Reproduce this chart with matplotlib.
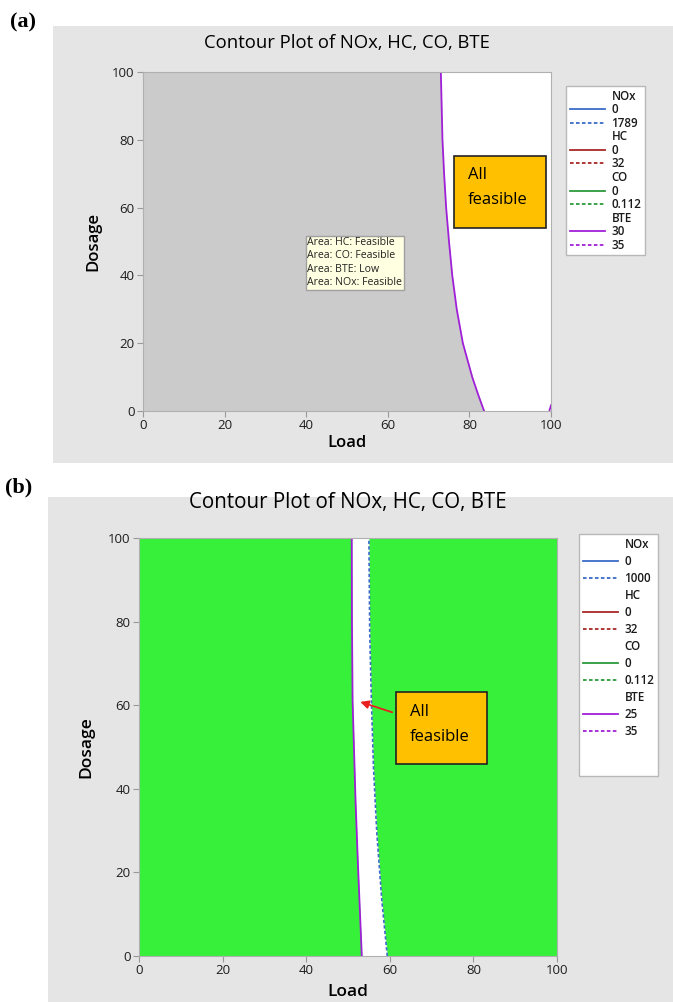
import matplotlib
matplotlib.use("Agg")
import matplotlib.pyplot as plt
from matplotlib.patches import Rectangle
from matplotlib.lines import Line2D

plt.rcParams['font.family'] = ['Open Sans', 'DejaVu Sans']

# ---- data ----
# (a) BTE = 30 contour boundary (Load vs Dosage)
a_bte_dosage = [0, 5, 10, 20, 30, 40, 50, 60, 70, 80, 90, 100]
a_bte_load = [83.6, 82.1, 80.7, 78.4, 76.9, 75.8, 75.0, 74.3, 73.8, 73.4, 73.2, 73.0]
# small BTE piece at bottom right corner
a_corner_load = [99.6, 100]
a_corner_dosage = [0, 1.7]

# (b) BTE = 25 (left edge of feasible band) and NOx = 1000 (right edge)
b_bte_dosage = [0, 21.4, 37.3, 61, 80, 100]
b_bte_load = [53.3, 52.4, 51.8, 51.1, 50.95, 50.9]
b_nox_dosage = [0, 13.2, 29.3, 45, 61, 77.2, 100]
b_nox_load = [59.4, 58.1, 56.9, 56.1, 55.6, 55.2, 55.0]

ticks = [0, 20, 40, 60, 80, 100]
title = "Contour Plot of NOx, HC, CO, BTE"
a_levels = {"NOx": ["0", "1789"], "HC": ["0", "32"], "CO": ["0", "0.112"], "BTE": ["30", "35"]}
b_levels = {"NOx": ["0", "1000"], "HC": ["0", "32"], "CO": ["0", "0.112"], "BTE": ["25", "35"]}
colors = {"NOx": "#3a6cc8", "HC": "#a82828", "CO": "#2e9a3c", "BTE": "#a020d8"}
area_text = "Area: HC: Feasible\nArea: CO: Feasible\nArea: BTE: Low\nArea: NOx: Feasible"

W, H = 673, 1002
fig = plt.figure(figsize=(W / 100, H / 100), dpi=100)


def fx(px):
    return px / W


def fy(py):
    return 1 - py / H


def background(x0, y0, x1, y1):
    bg = fig.add_axes([fx(x0), fy(y1), fx(x1 - x0), (y1 - y0) / H], zorder=-5)
    bg.set_facecolor('#e5e5e5')
    bg.set_xticks([])
    bg.set_yticks([])
    for s in bg.spines.values():
        s.set_visible(False)


background(53, 26, 673, 463)
background(48, 497, 673, 1002)


def style_axes(ax, lsize, xpad, ypad):
    ax.set_xlim(0, 100)
    ax.set_ylim(0, 100)
    ax.set_xticks(ticks)
    ax.set_yticks(ticks)
    for s in ax.spines.values():
        s.set_color('#b0b0b0')
    ax.tick_params(length=4, color='#999999', labelsize=9.5, labelcolor='#1e1e1e', pad=2)
    ax.set_xlabel("Load", fontsize=lsize, fontweight='semibold', labelpad=xpad)
    ax.set_ylabel("Dosage", fontsize=lsize, fontweight='semibold', labelpad=ypad)


def make_legend(levels, loc_px, spacing, blanks):
    handles, labels = [], []
    for name, vals in levels.items():
        handles.append(Line2D([], [], color='none'))
        labels.append(name)
        handles.append(Line2D([], [], color=colors[name], lw=1.3))
        labels.append(vals[0])
        handles.append(Line2D([], [], color=colors[name], lw=1.3, linestyle=(0, (2, 1.3))))
        labels.append(vals[1])
    for _ in range(blanks):
        handles.append(Line2D([], [], color='none'))
        labels.append(" ")
    leg = fig.legend(handles, labels, loc='upper left', bbox_to_anchor=(fx(loc_px[0]), fy(loc_px[1])),
                     borderaxespad=0, fontsize=8.4, labelspacing=spacing, handlelength=3.0,
                     handletextpad=0.6, borderpad=0.3, fancybox=False, framealpha=1,
                     edgecolor='#b8b8b8')
    leg.get_frame().set_linewidth(1.0)
    for t in leg.get_texts():
        t.set_fontweight('semibold')
        t.set_color('#1a1a1a')
    return leg


# ---------------- panel (a) ----------------
ax1 = fig.add_axes([fx(143), fy(411), fx(408), 339 / H])
ax1.set_facecolor('white')
ax1.fill_betweenx(a_bte_dosage, 0, a_bte_load, color='#cbcbcb', lw=0)
ax1.plot(a_bte_load, a_bte_dosage, color=colors["BTE"], lw=1.3)
ax1.plot(a_corner_load, a_corner_dosage, color=colors["BTE"], lw=1.3, clip_on=False)
style_axes(ax1, 12, 2, 8)
ax1.text(0.5, 1 + 29 / 339, title, transform=ax1.transAxes, ha='center', va='center', fontsize=13.3)
ax1.text(40.3, 51.3, area_text, fontsize=7.6, va='top', ha='left', linespacing=1.3, color='#222222',
         bbox=dict(boxstyle='square,pad=0.15', facecolor='#ffffe1', edgecolor='#a0a0a0', lw=1))
ax1.add_patch(Rectangle((76.2, 54.0), 22.6, 21.2, facecolor='#ffc000', edgecolor='#222222', lw=1.2, zorder=5))
ax1.text(79.7, 69.6, "All", fontsize=12, va='center', ha='left', zorder=6)
ax1.text(79.7, 62.3, "feasible", fontsize=12, va='center', ha='left', zorder=6)
make_legend(a_levels, (566, 86), 0.05, 0)

# ---------------- panel (b) ----------------
ax2 = fig.add_axes([fx(139), fy(956), fx(418), 418 / H])
ax2.set_facecolor('white')
ax2.fill_betweenx(b_bte_dosage, 0, b_bte_load, color='#36f03a', lw=0)
ax2.fill_betweenx(b_nox_dosage, b_nox_load, 100, color='#36f03a', lw=0)
ax2.plot(b_bte_load, b_bte_dosage, color=colors["BTE"], lw=1.3)
ax2.plot(b_nox_load, b_nox_dosage, color=colors["NOx"], lw=1.2, linestyle=(0, (2, 1.3)))
style_axes(ax2, 12.5, 5, 10)
ax2.text(0.5, 1 + 36 / 418, title, transform=ax2.transAxes, ha='center', va='center', fontsize=14.8)
ax2.add_patch(Rectangle((61.5, 45.9), 21.8, 17.3, facecolor='#ffc000', edgecolor='#222222', lw=1.2, zorder=5))
ax2.text(64.8, 58.4, "All", fontsize=12, va='center', ha='left', zorder=6)
ax2.text(64.8, 52.3, "feasible", fontsize=12, va='center', ha='left', zorder=6)
ax2.annotate("", xy=(52.3, 61.0), xytext=(61.2, 58.1),
             arrowprops=dict(arrowstyle='-|>', color='#e82020', lw=1.3, mutation_scale=12), zorder=7)
make_legend(b_levels, (579, 534), 0.35, 2)

# panel letters
fig.text(fx(10), fy(22), "(a)", family='Liberation Serif', fontweight='bold', fontsize=16, va='center')
fig.text(fx(5), fy(487), "(b)", family='Liberation Serif', fontweight='bold', fontsize=16, va='center')

fig.savefig("out.png", dpi=100)
